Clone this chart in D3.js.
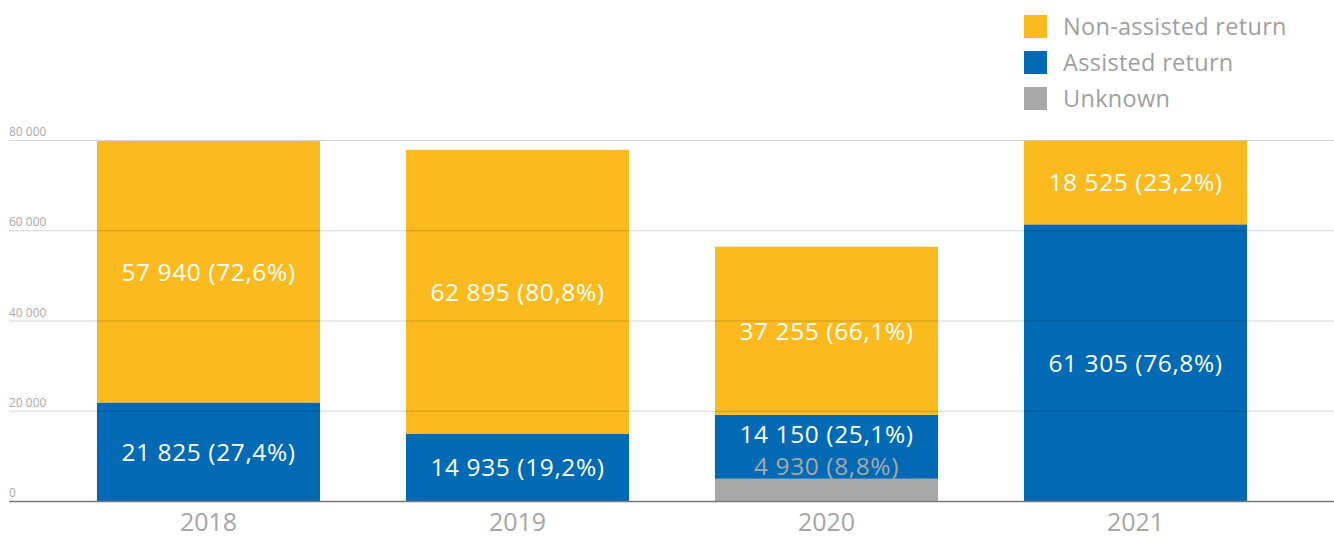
<!DOCTYPE html>
<html>
<head>
<meta charset="utf-8">
<script src="https://cdn.jsdelivr.net/npm/d3@7"></script>
<style>
  body { margin: 0; background: #fff; }
  text { font-family: "Open Sans", sans-serif; }
</style>
</head>
<body>
<div id="chart"></div>
<script>
var svgWidth = 1334;
var svgHeight = 538;

// data
var years = ["2018", "2019", "2020", "2021"];
var seriesKeys = ["unknown", "assisted", "nonAssisted"];
var seriesNames = ["Unknown", "Assisted return", "Non-assisted return"];
var unknownValues = [0, 0, 4930, 0];
var assistedValues = [21825, 14935, 14150, 61305];
var nonAssistedValues = [57940, 62895, 37255, 18525];
var unknownShares = ["", "", "8,8%", ""];
var assistedShares = ["27,4%", "19,2%", "25,1%", "76,8%"];
var nonAssistedShares = ["72,6%", "80,8%", "66,1%", "23,2%"];
var yTicks = [0, 20000, 40000, 60000, 80000];

var colors = { unknown: "#a8a8a8", assisted: "#006ab4", nonAssisted: "#fbba1e" };

var fmt = function(v) { return d3.format(",")(v).replace(/,/g, " "); };

var rows = years.map(function(y, i) {
  return {
    year: y,
    unknown: unknownValues[i],
    assisted: assistedValues[i],
    nonAssisted: nonAssistedValues[i],
    shares: { unknown: unknownShares[i], assisted: assistedShares[i], nonAssisted: nonAssistedShares[i] }
  };
});

var svg = d3.select("#chart")
  .append("svg")
  .attr("width", svgWidth)
  .attr("height", svgHeight);

var x = d3.scaleBand()
  .domain(years)
  .range([54, 1290])
  .paddingInner(0.278)
  .paddingOuter(0.139);

var y = d3.scaleLinear()
  .domain([0, 80000])
  .range([501, 140]);

var stack = d3.stack().keys(seriesKeys);
var layers = stack(rows);

// bars
var layerGroups = svg.append("g").selectAll("g")
  .data(layers)
  .enter()
  .append("g")
  .attr("fill", function(d) { return colors[d.key]; });

layerGroups.selectAll("rect")
  .data(function(d) { return d; })
  .enter()
  .append("rect")
  .attr("x", function(d) { return x(d.data.year); })
  .attr("width", x.bandwidth())
  .attr("y", function(d) { return y(d[1]); })
  .attr("height", function(d) { return y(d[0]) - y(d[1]); });

// gridlines, drawn over the bars
var grid = svg.append("g")
  .attr("transform", "translate(9,0)")
  .call(d3.axisLeft(y).tickValues(yTicks).tickSize(-1325).tickFormat(""));
grid.select(".domain").remove();
grid.selectAll(".tick line")
  .attr("stroke", function(d) { return d === 0 ? "#777" : "#000"; })
  .attr("stroke-opacity", function(d) { return d === 0 ? 1 : 0.17; })
  .attr("stroke-width", function(d) { return d === 0 ? 1.5 : 1; });

// y tick labels
svg.append("g").selectAll("text")
  .data(yTicks)
  .enter()
  .append("text")
  .attr("x", 9)
  .attr("y", function(d) { return y(d) - 4; })
  .attr("fill", "#aaa")
  .attr("font-size", 12)
  .text(function(d) { return fmt(d); });

// year labels
var xAxis = svg.append("g")
  .attr("transform", "translate(0,502)")
  .call(d3.axisBottom(x).tickSize(0).tickPadding(0));
xAxis.select(".domain").remove();
xAxis.selectAll("text")
  .attr("dy", null)
  .attr("y", 29)
  .attr("fill", "#a6a6a6")
  .attr("font-size", 25)
  .attr("font-family", "'Open Sans', sans-serif");

// segment labels
var labels = [];
layers.forEach(function(layer) {
  layer.forEach(function(d) {
    var v = d[1] - d[0];
    if (v <= 0) return;
    labels.push({ key: layer.key, year: d.data.year, value: v, share: d.data.shares[layer.key], lo: d[0], hi: d[1] });
  });
});

svg.append("g").selectAll("text")
  .data(labels)
  .enter()
  .append("text")
  .attr("x", function(d) { return x(d.year) + x.bandwidth() / 2; })
  .attr("y", function(d) {
    var mid = (y(d.lo) + y(d.hi)) / 2;
    // 2020: unknown label sits inside the blue segment, below the assisted label
    if (d.key === "unknown") {
      var row = rows[years.indexOf(d.year)];
      return (y(row.unknown) + y(row.unknown + row.assisted)) / 2 + 19;
    }
    if (d.key === "assisted" && d.lo > 0) return mid - 13;
    return mid;
  })
  .attr("dy", "0.36em")
  .attr("text-anchor", "middle")
  .attr("font-size", 24.5)
  .attr("letter-spacing", 0.6)
  .attr("fill", function(d) { return d.key === "unknown" ? "#a8a8a8" : "#fff"; })
  .text(function(d) { return fmt(d.value) + " (" + d.share + ")"; });

// legend
var legendOrder = ["nonAssisted", "assisted", "unknown"];
var legend = svg.append("g").selectAll("g")
  .data(legendOrder)
  .enter()
  .append("g")
  .attr("transform", function(d, i) { return "translate(1024," + (15 + i * 36) + ")"; });

legend.append("rect")
  .attr("width", 23)
  .attr("height", 23)
  .attr("fill", function(d) { return colors[d]; });

legend.append("text")
  .attr("x", 39)
  .attr("y", 11.5)
  .attr("dy", "0.36em")
  .attr("font-size", 23.5)
  .attr("letter-spacing", 0.3)
  .attr("fill", "#a0a0a0")
  .text(function(d) { return seriesNames[seriesKeys.indexOf(d)]; });
</script>
</body>
</html>
